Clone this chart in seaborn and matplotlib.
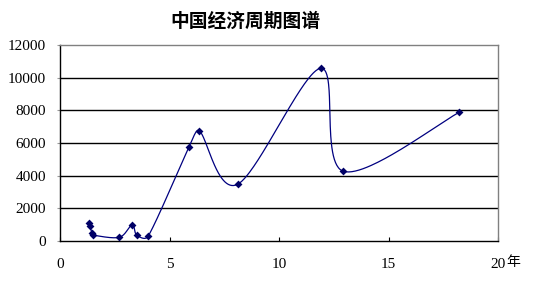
import numpy as np
import pandas as pd
import matplotlib
matplotlib.use("Agg")
import matplotlib.pyplot as plt
import matplotlib.transforms as mtransforms
import seaborn as sns

# ---- data ----
years = [1.31, 1.37, 1.46, 1.49, 2.71, 3.29, 3.50, 4.03, 5.90, 6.36, 8.11, 11.90, 12.94, 18.23]
values = [1084, 918, 471, 367, 227, 998, 367, 306, 5773, 6753, 3471, 10573, 4267, 7879]
x_ticks = [0, 5, 10, 15, 20]
x_tick_labels = ["0", "5", "10", "15", "20"]
y_ticks = [0, 2000, 4000, 6000, 8000, 10000, 12000]
title = "中国经济周期图谱"
x_unit = "年"

X_MAX, Y_MAX = 20, 12000
PLOT_W, PLOT_H = 438, 196  # plot area in pixels


def smooth(xs, ys, n=60):
    """Spreadsheet-style smoothed line: cubic Bezier segments through the
    points, control arm = 1/6 of the neighbour chord; on short segments the
    arm is limited to half the segment and to a third of its width."""
    sx, sy = PLOT_W / X_MAX, PLOT_H / Y_MAX
    p = np.column_stack([np.asarray(xs) * sx, np.asarray(ys) * sy]).astype(float)
    out = []
    m = len(p)
    for i in range(m - 1):
        p0 = p[i - 1] if i > 0 else p[i]
        p1 = p[i]
        p2 = p[i + 1]
        p3 = p[i + 2] if i + 2 < m else p[i + 1]
        d12 = np.linalg.norm(p2 - p1)
        d02 = np.linalg.norm(p2 - p0)
        d13 = np.linalg.norm(p3 - p1)
        dx = abs(p2[0] - p1[0])
        a1 = (p2 - p0) / 6
        a2 = (p3 - p1) / 6
        if d02 > 0 and d02 / 6 > d12 / 2:
            a1 = (p2 - p0) * (d12 / 2 / d02)
            if abs(a1[0]) > dx / 3:
                a1 = a1 * (dx / 3 / abs(a1[0]))
        if d13 > 0 and d13 / 6 > d12 / 2:
            a2 = (p3 - p1) * (d12 / 2 / d13)
            if abs(a2[0]) > dx / 3:
                a2 = a2 * (dx / 3 / abs(a2[0]))
        c1 = p1 + a1
        c2 = p2 - a2
        t = np.linspace(0, 1, n, endpoint=(i == m - 2))[:, None]
        seg = ((1 - t) ** 3) * p1 + 3 * ((1 - t) ** 2) * t * c1 + 3 * (1 - t) * t ** 2 * c2 + t ** 3 * p2
        out.append(seg)
    pts = np.vstack(out)
    return pts[:, 0] / sx, pts[:, 1] / sy


sns.set_theme(style="white")
plt.rcParams["font.family"] = ["Noto Sans CJK SC", "DejaVu Sans"]

fig = plt.figure(figsize=(5.37, 2.93), dpi=100)
ax = fig.add_axes([60 / 537, 52 / 293, PLOT_W / 537, PLOT_H / 293])

cx, cy = smooth(years, values)
curve_df = pd.DataFrame({"x": cx, "y": cy})
pts_df = pd.DataFrame({"year": years, "value": values})

sns.lineplot(data=curve_df, x="x", y="y", sort=False, estimator=None,
             color="#000080", linewidth=0.9, ax=ax, zorder=2)
sns.scatterplot(data=pts_df, x="year", y="value", marker="D", s=16,
                color="#000066", edgecolor="#000066", linewidth=0, ax=ax, zorder=3)

ax.set_xlim(0, X_MAX)
ax.set_ylim(0, Y_MAX)
ax.set_xticks(x_ticks)
ax.set_xticklabels(x_tick_labels, family=["Liberation Serif", "DejaVu Serif"])
ax.set_yticks(y_ticks)
ax.set_yticklabels([str(v) for v in y_ticks], family=["Liberation Serif", "DejaVu Serif"])
ax.set_xlabel("")
ax.set_ylabel("")

for v in y_ticks[1:-1]:
    ax.axhline(v, color="black", linewidth=1.0, zorder=1)

for side in ["left", "bottom"]:
    ax.spines[side].set_color("black")
    ax.spines[side].set_linewidth(1.0)
for side in ["top", "right"]:
    ax.spines[side].set_color("#808080")
    ax.spines[side].set_linewidth(1.0)

ax.tick_params(axis="x", direction="in", length=3, width=0.8, color="black",
               pad=12, labelsize=11, labelcolor="black", bottom=True)
ax.tick_params(axis="y", direction="out", length=2, width=0.8, color="#999999",
               pad=8, labelsize=11, labelcolor="black", left=True)

# unit next to the last x tick label
trans = mtransforms.blended_transform_factory(ax.transData, ax.transAxes)
ax.text(20, 0, x_unit, transform=trans + mtransforms.ScaledTranslation(8 / 100, -21 / 100, fig.dpi_scale_trans),
        ha="left", va="center", fontsize=10, color="black")

fig.text(245 / 537, (293 - 21) / 293, title, ha="center", va="center",
         fontsize=13.5, fontweight="bold", color="black")

fig.savefig("out.png", dpi=100, facecolor="white")
